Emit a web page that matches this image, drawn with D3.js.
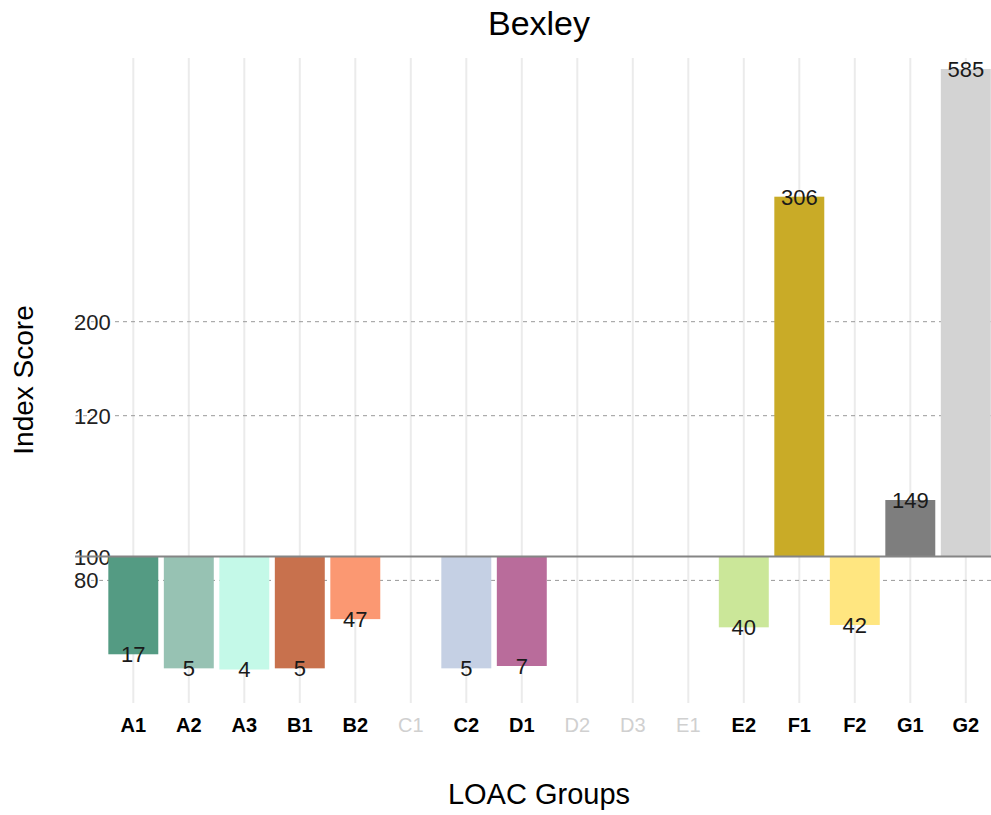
<!DOCTYPE html>
<html>
<head>
<meta charset="utf-8">
<script src="https://cdn.jsdelivr.net/npm/d3@7"></script>
<style>
  html, body { margin: 0; padding: 0; background: #fff; }
  svg { display: block; font-family: "Liberation Sans", Arial, Helvetica, sans-serif; }
</style>
</head>
<body>
<svg id="chart" width="991" height="815"></svg>
<script>
// ---- data ----
const groups = ["A1","A2","A3","B1","B2","C1","C2","D1","D2","D3","E1","E2","F1","F2","G1","G2"];
const scores = [17, 5, 4, 5, 47, null, 5, 7, null, null, null, 40, 306, 42, 149, 585];
const colors = ["#549b83","#97c2b3","#c4f9e8","#c8714d","#fb9872",null,"#c5d0e4","#b96c9b",null,null,null,"#cbe799","#c9ab27","#ffe680","#7e7e7e","#d3d3d3"];
const tickValues = [80, 100, 120, 200];
const baselineValue = 100;
const titleText = "Bexley";
const xTitle = "LOAC Groups";
const yTitle = "Index Score";

// ---- layout ----
const W = 991, H = 815;
const svg = d3.select("#chart");

const x = d3.scaleBand()
  .domain(groups)
  .range([105.55, 993.55])
  .paddingInner(0.1)
  .paddingOuter(0.05);

// bar scale (piecewise, as drawn in the reference)
const y = d3.scaleLinear()
  .domain([0, 100, 149, 306, 585])
  .range([674.2, 557, 500, 196.7, 69]);

// axis scale (reference grid positions)
const yAxis = d3.scaleLinear()
  .domain([80, 100, 120, 200])
  .range([580.4, 557, 415.7, 321.7]);

const panelTop = 58, panelBottom = 703;

// vertical grid lines
svg.append("g").selectAll("line")
  .data(groups).join("line")
  .attr("x1", d => x(d) + x.bandwidth() / 2)
  .attr("x2", d => x(d) + x.bandwidth() / 2)
  .attr("y1", panelTop).attr("y2", panelBottom)
  .attr("stroke", "#ebebeb").attr("stroke-width", 2);

// dashed horizontal reference lines
svg.append("g").selectAll("line")
  .data(tickValues.filter(v => v !== baselineValue)).join("line")
  .attr("x1", 75).attr("x2", W)
  .attr("y1", d => yAxis(d)).attr("y2", d => yAxis(d))
  .attr("stroke", "#999").attr("stroke-width", 1)
  .attr("stroke-dasharray", "4,4");

// y tick labels
svg.append("g").selectAll("text")
  .data(tickValues).join("text")
  .attr("x", 74)
  .attr("y", d => yAxis(d))
  .attr("dy", "0.36em")
  .attr("text-anchor", "start")
  .attr("font-size", 22)
  .attr("fill", "#222")
  .attr("stroke", "#fff").attr("stroke-width", 3)
  .attr("paint-order", "stroke")
  .text(d => d);

// bars
const data = groups.map((g, i) => ({ g, v: scores[i], c: colors[i] })).filter(d => d.v !== null);
svg.append("g").selectAll("rect")
  .data(data).join("rect")
  .attr("x", d => x(d.g))
  .attr("width", x.bandwidth())
  .attr("y", d => Math.min(y(d.v), y(baselineValue)))
  .attr("height", d => Math.abs(y(d.v) - y(baselineValue)))
  .attr("fill", d => d.c);

// baseline at 100
svg.append("line")
  .attr("x1", 75).attr("x2", W)
  .attr("y1", y(baselineValue) - 0.5).attr("y2", y(baselineValue) - 0.5)
  .attr("stroke", "#858585").attr("stroke-width", 2);

// value labels
svg.append("g").selectAll("text")
  .data(data).join("text")
  .attr("x", d => x(d.g) + x.bandwidth() / 2)
  .attr("y", d => y(d.v))
  .attr("dy", "0.36em")
  .attr("text-anchor", "middle")
  .attr("font-size", 22)
  .attr("fill", "#1a1a1a")
  .text(d => d.v);

// x tick labels
svg.append("g").selectAll("text")
  .data(groups.map((g, i) => ({ g, v: scores[i] }))).join("text")
  .attr("x", d => x(d.g) + x.bandwidth() / 2)
  .attr("y", 732)
  .attr("text-anchor", "middle")
  .attr("font-size", 20)
  .attr("font-weight", d => d.v === null ? "normal" : "bold")
  .attr("fill", d => d.v === null ? "#d0d0d0" : "#000")
  .text(d => d.g);

// titles
svg.append("text")
  .attr("x", 539).attr("y", 35)
  .attr("text-anchor", "middle")
  .attr("font-size", 34)
  .attr("fill", "#000")
  .text(titleText);

svg.append("text")
  .attr("x", 539).attr("y", 804)
  .attr("text-anchor", "middle")
  .attr("font-size", 29)
  .attr("fill", "#000")
  .text(xTitle);

svg.append("text")
  .attr("transform", "translate(33,380) rotate(-90)")
  .attr("text-anchor", "middle")
  .attr("font-size", 28)
  .attr("fill", "#000")
  .text(yTitle);
</script>
</body>
</html>
